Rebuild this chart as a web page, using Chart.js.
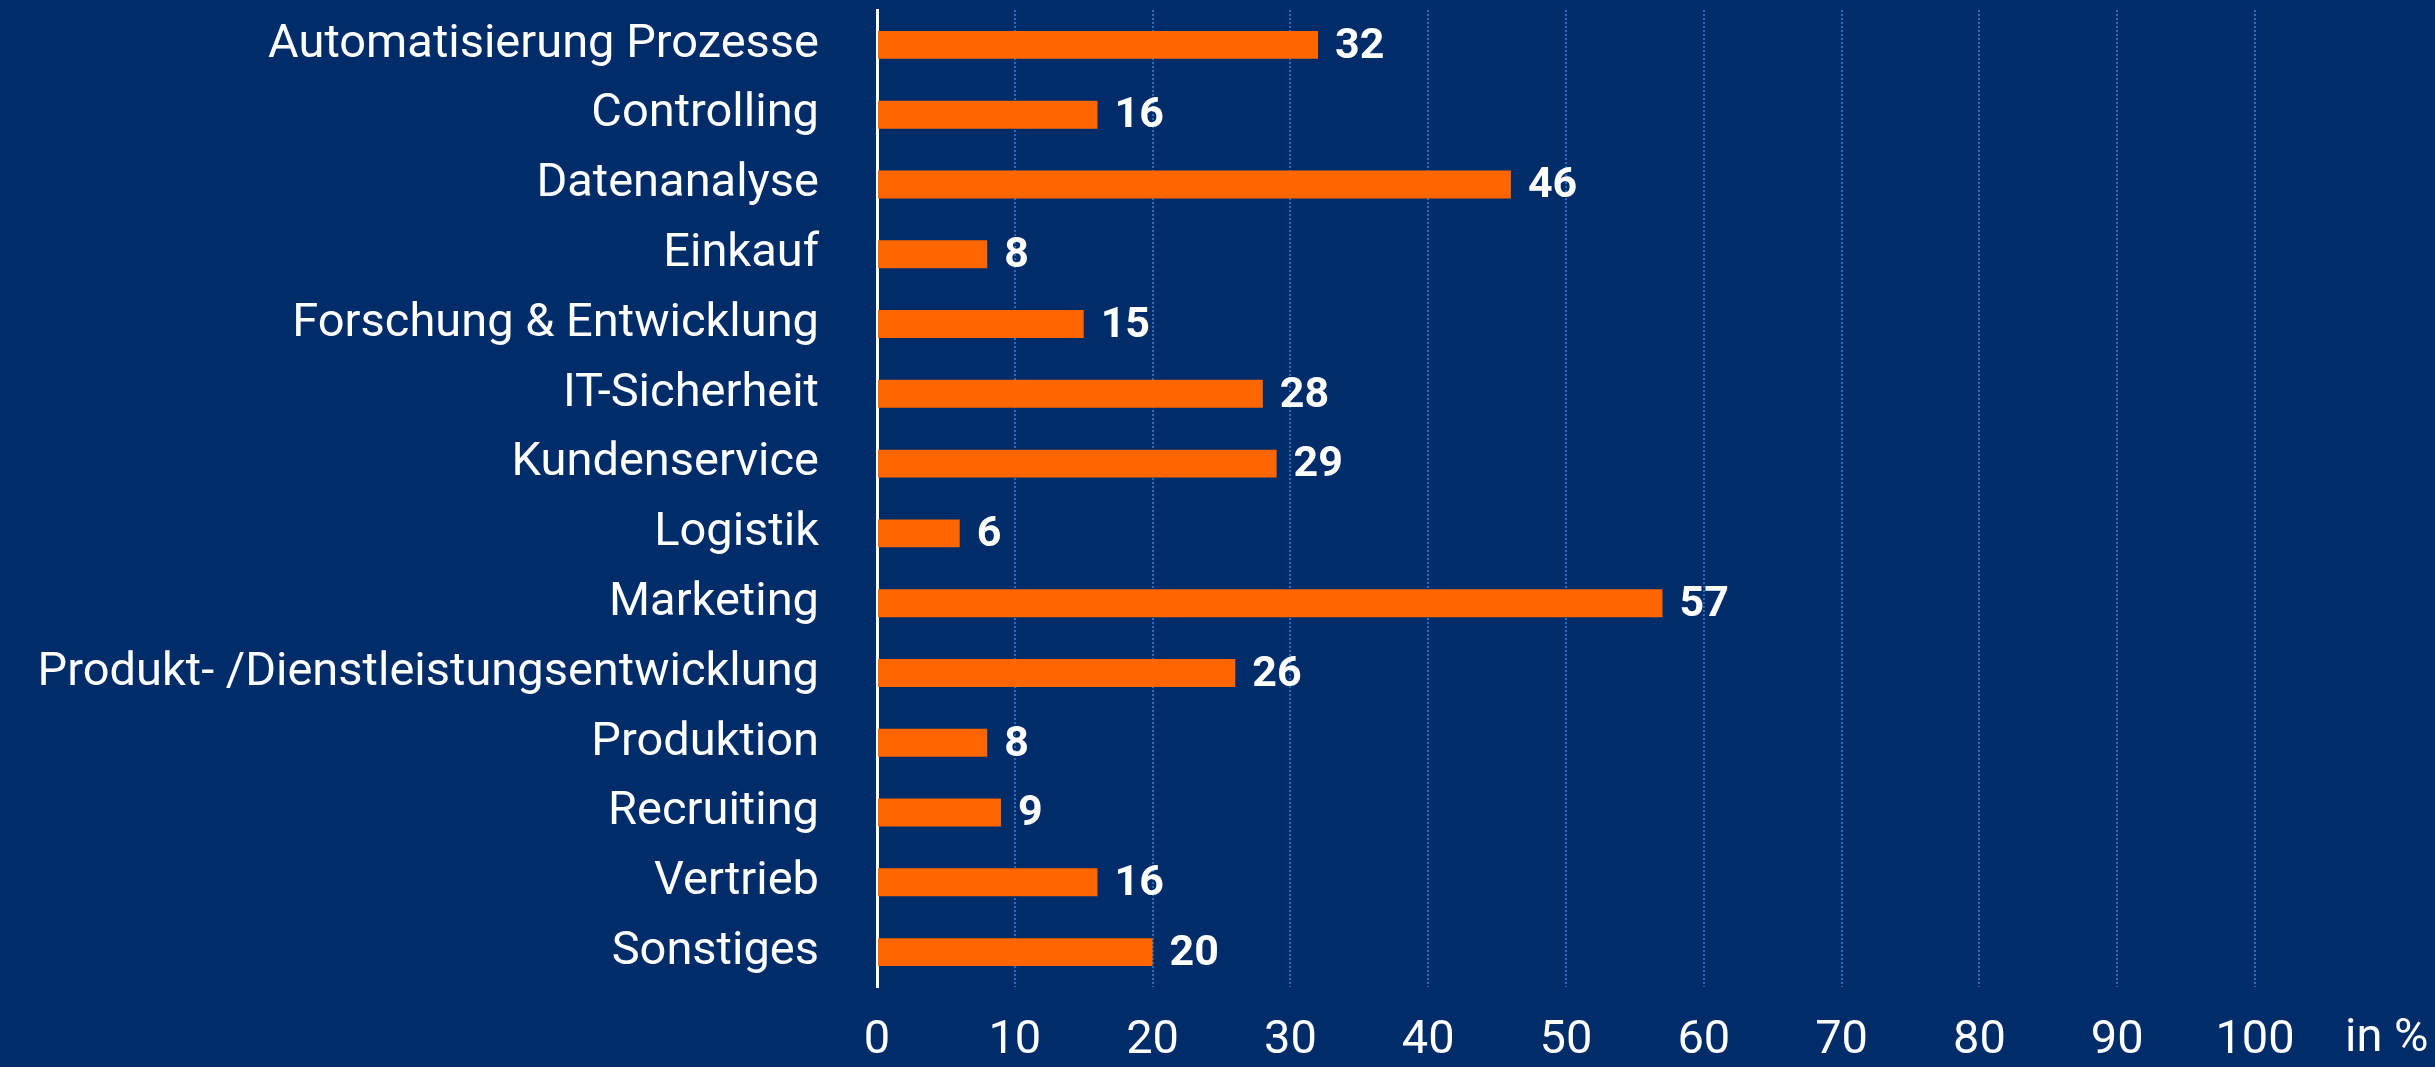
<!DOCTYPE html>
<html lang="de">
<head>
<meta charset="utf-8"/>
<title>Einsatzbereiche</title>
<script src="https://cdn.jsdelivr.net/npm/chart.js@4.4.3/dist/chart.umd.min.js"></script>
<style>
  html, body { margin: 0; padding: 0; background: #002d69; }
  #wrap { width: 2435px; height: 1067px; }
</style>
</head>
<body>
<div id="wrap"><canvas id="chart" width="2435" height="1067"></canvas></div>
<script>
  // data
  const categories = [
    'Automatisierung Prozesse', 'Controlling', 'Datenanalyse', 'Einkauf',
    'Forschung & Entwicklung', 'IT-Sicherheit', 'Kundenservice', 'Logistik',
    'Marketing', 'Produkt- /Dienstleistungsentwicklung', 'Produktion',
    'Recruiting', 'Vertrieb', 'Sonstiges'
  ];
  const values = [32, 16, 46, 8, 15, 28, 29, 6, 57, 26, 8, 9, 16, 20];
  const unitLabel = 'in %';

  const FONT = 'Roboto, "Open Sans", sans-serif';

  // value labels next to bars + unit label on the x axis
  const labelPlugin = {
    id: 'labels',
    afterDatasetsDraw(chart) {
      const ctx = chart.ctx;
      const meta = chart.getDatasetMeta(0);
      ctx.save();
      ctx.fillStyle = '#ffffff';
      ctx.font = 'bold 43px ' + FONT;
      ctx.textBaseline = 'middle';
      ctx.textAlign = 'left';
      meta.data.forEach((bar, i) => {
        ctx.fillText(values[i], bar.x + 17, bar.y + 2);
      });
      ctx.font = '47px ' + FONT;
      ctx.fillText(unitLabel, 2345, 1039);
      ctx.restore();
    }
  };

  Chart.defaults.font.family = FONT;
  Chart.defaults.color = '#ffffff';

  new Chart(document.getElementById('chart'), {
    type: 'bar',
    data: {
      labels: categories,
      datasets: [{
        data: values,
        backgroundColor: '#ff6600',
        barPercentage: 0.4,
        categoryPercentage: 1.0
      }]
    },
    options: {
      indexAxis: 'y',
      responsive: false,
      animation: false,
      layout: { padding: { top: 10, right: 180, left: 0, bottom: 0 } },
      plugins: { legend: { display: false }, tooltip: { enabled: false } },
      scales: {
        x: {
          min: 0, max: 100,
          ticks: { stepSize: 10, color: '#ffffff', font: { size: 47 }, padding: 26 },
          grid: {
            color: (c) => c.tick && c.tick.value === 0 ? 'rgba(0,0,0,0)' : '#1e6fbe',
            lineWidth: 2,
            drawTicks: false
          },
          border: { display: false, dash: [2, 2] },
          afterFit(scale) { scale.height = 80; }
        },
        y: {
          ticks: { color: '#ffffff', font: { size: 47 }, padding: 58 },
          grid: { display: false, drawTicks: false },
          border: { display: true, color: '#ffffff', width: 3 },
          afterFit(scale) {
            scale.width = 877;
            scale.paddingTop = 0;
            scale.paddingBottom = 0;
          }
        }
      }
    },
    plugins: [labelPlugin]
  });
</script>
</body>
</html>
